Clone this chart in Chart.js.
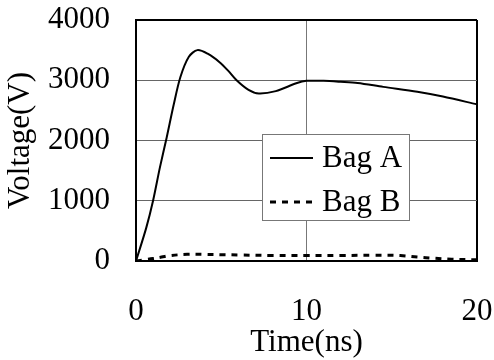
<!DOCTYPE html>
<html>
<head>
<meta charset="utf-8">
<script src="https://cdn.jsdelivr.net/npm/chart.js@4.4.0/dist/chart.umd.min.js"></script>
<style>
  body { margin: 0; background: #fff; }
  #wrap { width: 494px; height: 360px; }
</style>
</head>
<body>
<div id="wrap"><canvas id="voltageChart" width="494" height="360"></canvas></div>
<script>
// Données
const timeA = [0, 0.6, 1, 1.4, 1.8, 2.2, 2.6, 3.1, 3.6, 4.2, 4.9, 5.4, 5.9, 6.6, 7.2, 8.2, 9.4, 10, 11, 12, 13, 14.5, 16.5, 18, 20];
const bagA = [0, 550, 1000, 1550, 2050, 2580, 3050, 3390, 3500, 3440, 3300, 3160, 3000, 2840, 2780, 2820, 2950, 2990, 2990, 2975, 2955, 2890, 2810, 2730, 2600];
const timeB = [0, 0.5, 1, 1.5, 2, 3, 4, 5, 6, 8, 10, 12, 14, 15.5, 16.5, 17.5, 18.5, 20];
const bagB = [0, 20, 40, 65, 90, 110, 110, 105, 100, 92, 90, 92, 95, 90, 65, 45, 30, 20];
const seriesLabels = ['Bag A', 'Bag B'];
const xTicks = [0, 10, 20];
const yTicks = [0, 1000, 2000, 3000, 4000];

const serif = '"Liberation Serif", "Times New Roman", serif';

// Légende dessinée dans la zone du graphique
const boxLegend = {
  id: 'boxLegend',
  afterDraw(chart) {
    const ctx = chart.ctx;
    const left = 262, top = 134, right = 409, bottom = 220;
    ctx.save();
    ctx.fillStyle = '#fff';
    ctx.fillRect(left, top, right - left, bottom - top);
    ctx.strokeStyle = '#777';
    ctx.lineWidth = 1;
    ctx.strokeRect(left + 0.5, top + 0.5, right - left, bottom - top);
    const rows = [158, 202];
    chart.data.datasets.forEach((ds, i) => {
      const y = rows[i];
      ctx.strokeStyle = ds.borderColor;
      ctx.lineWidth = ds.borderWidth;
      ctx.setLineDash(ds.borderDash || []);
      ctx.beginPath();
      ctx.moveTo(270, y);
      ctx.lineTo(313, y);
      ctx.stroke();
      ctx.setLineDash([]);
      ctx.fillStyle = '#000';
      ctx.font = '31px ' + serif;
      ctx.textBaseline = 'middle';
      ctx.textAlign = 'left';
      ctx.fillText(ds.label, 322, y + 1);
    });
    ctx.restore();
  }
};

const ctx = document.getElementById('voltageChart').getContext('2d');
const voltageChart = new Chart(ctx, {
  type: 'line',
  data: {
    datasets: [
      {
        label: seriesLabels[0],
        data: timeA.map((t, i) => ({ x: t, y: bagA[i] })),
        borderColor: '#000',
        borderWidth: 2,
        pointRadius: 0,
        tension: 0.3,
        fill: false,
      },
      {
        label: seriesLabels[1],
        data: timeB.map((t, i) => ({ x: t, y: bagB[i] })),
        borderColor: '#000',
        borderWidth: 3,
        borderDash: [6, 6],
        pointRadius: 0,
        tension: 0.4,
        fill: false,
      },
    ],
  },
  options: {
    responsive: false,
    animation: false,
    layout: { padding: { top: 20, right: 17, left: 0, bottom: 0 } },
    plugins: {
      legend: { display: false },
      tooltip: { enabled: false },
    },
    scales: {
      x: {
        type: 'linear',
        min: 0,
        max: 20,
        afterBuildTicks: (scale) => { scale.ticks = xTicks.map(v => ({ value: v })); },
        afterFit: (scale) => {
          scale.height = 99;
          scale.paddingLeft = 0;
          scale.paddingRight = 0;
        },
        grid: {
          drawTicks: false,
          color: (c) => (c.tick && c.tick.value === 20 ? '#000' : '#777'),
          lineWidth: (c) => (c.tick && c.tick.value === 20 ? 2 : 1),
        },
        border: { display: true, color: '#000', width: 2 },
        ticks: {
          padding: 32,
          color: '#000',
          font: { family: serif, size: 31 },
          maxRotation: 0,
          callback: (v) => String(v),
        },
        title: {
          display: true,
          text: 'Time(ns)',
          color: '#000',
          font: { family: serif, size: 31, lineHeight: 1 },
          padding: { top: 0, bottom: 2 },
        },
      },
      y: {
        min: 0,
        max: 4000,
        afterBuildTicks: (scale) => { scale.ticks = yTicks.map(v => ({ value: v })); },
        afterFit: (scale) => {
          scale.width = 136;
          scale.paddingTop = 0;
          scale.paddingBottom = 0;
        },
        grid: {
          drawTicks: false,
          color: (c) => (c.tick && c.tick.value === 4000 ? '#000' : '#666'),
          lineWidth: (c) => (c.tick && c.tick.value === 4000 ? 2 : 1),
        },
        border: { display: true, color: '#000', width: 2 },
        ticks: {
          padding: 26,
          color: '#000',
          font: { family: serif, size: 31 },
          callback: (v) => String(v),
        },
        title: {
          display: true,
          text: 'Voltage(V)',
          color: '#000',
          font: { family: serif, size: 31, lineHeight: 1 },
          padding: { top: 5, bottom: 0 },
        },
      },
    },
  },
  plugins: [boxLegend],
});
</script>
</body>
</html>
